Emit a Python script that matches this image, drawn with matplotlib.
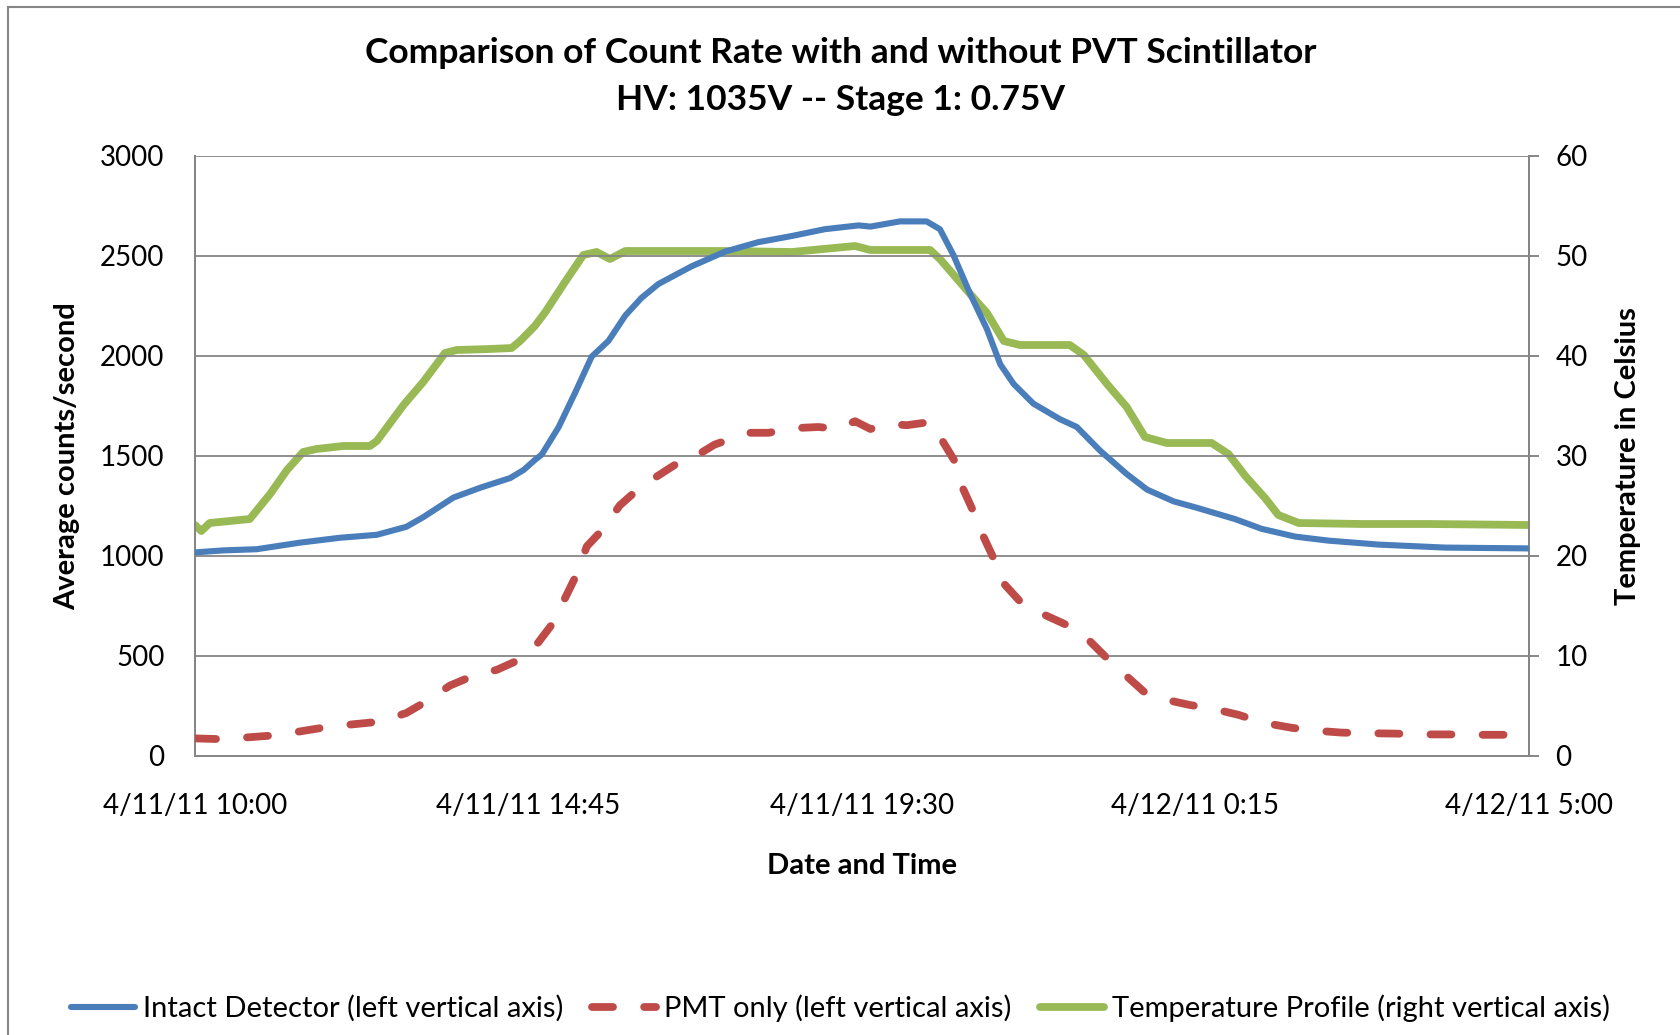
import matplotlib
matplotlib.use("Agg")
import matplotlib.pyplot as plt
from matplotlib.lines import Line2D

plt.rcParams['font.family'] = ['Lato', 'DejaVu Sans']

# hours since 4/11/11 10:00
intact_t = [0.0, 0.4, 0.88, 1.5, 2.06, 2.59, 3.01, 3.25, 3.68, 4.06, 4.49, 4.68, 4.84,
            4.94, 5.18, 5.42, 5.65, 5.89, 6.13, 6.36, 6.6, 7.07, 7.55, 8.02, 8.5, 8.97,
            9.45, 9.62, 10.04, 10.42, 10.61, 10.8, 11.04, 11.28, 11.47, 11.66, 11.94,
            12.32, 12.56, 12.89, 13.27, 13.56, 13.94, 14.25, 14.53, 14.81, 15.19, 15.67,
            16.14, 16.86, 17.81, 19.0]
intact = [1018, 1028, 1034, 1067, 1091, 1106, 1146, 1194, 1292, 1341, 1390, 1430, 1480,
          1508, 1645, 1821, 1997, 2076, 2203, 2291, 2360, 2448, 2522, 2569, 2600, 2634,
          2653, 2647, 2673, 2673, 2634, 2506, 2311, 2134, 1958, 1860, 1762,
          1684, 1645, 1527, 1410, 1332, 1273, 1243, 1214, 1185, 1136, 1097,
          1077, 1057, 1042, 1038]

pmt_t = [0.0, 0.4, 1.16, 1.92, 2.64, 3.01, 3.3, 3.63, 3.96, 4.3, 4.61, 4.89, 5.08, 5.29,
         5.44, 5.58, 5.79, 6.05, 6.24, 6.46, 6.72, 6.98, 7.19, 7.4, 7.64, 7.88, 8.17,
         8.45, 8.64, 8.88, 9.16, 9.4, 9.62, 9.9, 10.14, 10.47, 10.61, 10.83, 10.92, 11.11,
         11.23, 11.4, 11.52, 11.8, 12.08, 12.41, 12.68, 12.96, 13.2, 13.51, 13.79, 14.17,
         14.51, 14.86, 15.22, 15.62, 15.95, 16.33, 16.69, 17.09, 17.47, 17.85, 18.18,
         18.56, 19.0]
pmt = [88, 84, 104, 147, 172, 215, 274, 352, 401, 431, 480, 568, 656, 803,
       911, 1048, 1126, 1253, 1312, 1371, 1430, 1488, 1512, 1557, 1586, 1616, 1616,
       1635, 1641, 1645, 1635, 1674, 1635, 1660, 1654, 1670, 1596, 1469, 1351, 1204,
       1097, 969, 862, 754, 709, 656, 597, 499, 421, 323, 284, 255,
       235, 206, 166, 141, 127, 117, 114, 112, 108, 108, 106,
       106, 106]

temp_t = [0.0, 0.09, 0.21, 0.78, 1.07, 1.31, 1.54, 1.73, 2.11, 2.49, 2.59, 2.97, 3.25,
          3.56, 3.73, 4.2, 4.51, 4.63, 4.84, 4.99, 5.27, 5.53, 5.72, 5.91, 6.13, 6.6,
          7.55, 8.5, 9.4, 9.62, 10.47, 10.61, 11.04, 11.28, 11.52, 11.75, 12.46, 12.66,
          12.99, 13.27, 13.53, 13.84, 14.25, 14.48, 14.72, 14.96, 15.24, 15.43, 15.72,
          16.62, 17.57, 19.0]
temp = [23.1, 22.5, 23.3, 23.7, 26.2, 28.6, 30.4, 30.7, 31.0, 31.0, 31.5, 35.1, 37.4,
        40.3, 40.6, 40.7, 40.8, 41.5, 43.0, 44.4, 47.4, 50.1, 50.4, 49.7, 50.5, 50.5,
        50.5, 50.4, 51.0, 50.6, 50.6, 49.7, 46.2, 44.3, 41.5, 41.1, 41.1, 40.1,
        37.2, 34.9, 31.9, 31.3, 31.3, 31.3, 30.2, 28.0, 25.8, 24.1, 23.3,
        23.2, 23.2, 23.1]

tick_pos = [0, 4.75, 9.5, 14.25, 19]
tick_labels = ['4/11/11 10:00', '4/11/11 14:45', '4/11/11 19:30', '4/12/11 0:15', '4/12/11 5:00']

W, H = 1681, 1035
fig = plt.figure(figsize=(W / 100, H / 100), dpi=100)
ax = fig.add_axes([195 / W, 1 - 756 / H, 1334 / W, 600 / H])
ax2 = ax.twinx()

grey = '#868686'
blue = '#4A7EBB'
red = '#BE4B48'
green = '#98B954'

ax.plot(intact_t, intact, color=blue, lw=4.4, solid_capstyle='round', solid_joinstyle='round',
        zorder=3, label='Intact Detector (left vertical axis)')
pmt_line, = ax.plot(pmt_t, pmt, color=red, lw=5.6, dash_capstyle='round', zorder=3,
                    label='PMT only (left vertical axis)')
pmt_line.set_dashes((2.7, 4.0))
ax2.plot(temp_t, temp, color=green, lw=5.6, solid_capstyle='round', solid_joinstyle='round',
         label='Temperature Profile (right vertical axis)')

ax.set_xlim(0, 19)
ax.set_ylim(0, 3000)
ax2.set_ylim(0, 60)
ax.set_yticks(range(0, 3001, 500))
ax2.set_yticks(range(0, 61, 10))
ax.set_xticks(tick_pos)
ax.set_xticklabels(tick_labels)
ax.grid(axis='y', color=grey, lw=1.3)
ax.set_axisbelow(True)
ax.set_zorder(ax2.get_zorder() + 1)
ax.patch.set_visible(False)

for a in (ax, ax2):
    for s in a.spines.values():
        s.set_color(grey)
        s.set_linewidth(1.4)
ax.spines['top'].set_visible(False)
ax2.spines['top'].set_visible(False)

ax.tick_params(axis='y', length=0, pad=22, labelsize=20)
ax.tick_params(axis='x', length=0, pad=27, labelsize=20)
ax2.tick_params(axis='y', length=7, width=1.4, color=grey, pad=12, labelsize=20)

ax.set_xlabel('Date and Time', fontsize=21, fontweight='bold', labelpad=24)
ax.set_ylabel('Average counts/second', fontsize=21, fontweight='bold', labelpad=14)
ax2.set_ylabel('Temperature in Celsius', fontsize=21, fontweight='bold', labelpad=20)

fig.text(0.5, 1 - 53 / H, 'Comparison of Count Rate with and without PVT Scintillator',
         ha='center', va='center', fontsize=25.5, fontweight='bold')
fig.text(0.5, 1 - 100 / H, 'HV: 1035V -- Stage 1: 0.75V',
         ha='center', va='center', fontsize=25.5, fontweight='bold')

h1, l1 = ax.get_legend_handles_labels()
h2, l2 = ax2.get_legend_handles_labels()
fig.legend(h1 + h2, l1 + l2, loc='center', bbox_to_anchor=(0.5, 1 - 1008 / H), ncol=3,
           frameon=False, fontsize=21, handlelength=2.2, handletextpad=0.25,
           columnspacing=1.0)

# chart area border (left and top edges visible)
fig.add_artist(Line2D([8 / W, 8 / W], [0, 1 - 7 / H], transform=fig.transFigure, color=grey, lw=1.5))
fig.add_artist(Line2D([8 / W, 1], [1 - 7 / H, 1 - 7 / H], transform=fig.transFigure, color=grey, lw=1.5))

fig.savefig('out.png', dpi=100)
